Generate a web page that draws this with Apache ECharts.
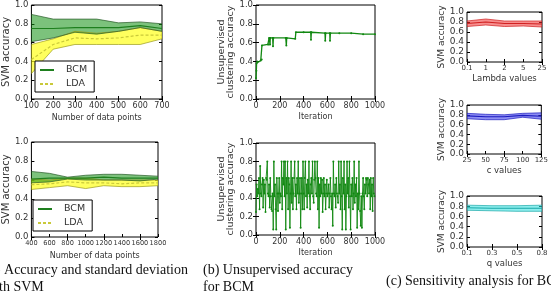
<!DOCTYPE html>
<html>
<head>
<meta charset="utf-8">
<script src="https://cdn.jsdelivr.net/npm/echarts@6/dist/echarts.min.js"></script>
<style>
  html, body { margin: 0; padding: 0; background: #fff; }
  #main { width: 551px; height: 303px; }
</style>
</head>
<body>
<div id="main"></div>
<script>
// (a) top: accuracy vs number of data points
var ptsA1 = ['100', '200', '300', '400', '500', '600', '700'];
var bcmMeanA1 = [0.75, 0.75, 0.76, 0.76, 0.76, 0.78, 0.75];
var bcmUpA1 = [0.90, 0.85, 0.85, 0.85, 0.81, 0.82, 0.80];
var bcmLoA1 = [0.61, 0.65, 0.71, 0.69, 0.72, 0.76, 0.72];
var ldaMeanA1 = [0.42, 0.58, 0.65, 0.64, 0.65, 0.68, 0.68];
var ldaUpA1 = [0.58, 0.64, 0.72, 0.70, 0.72, 0.76, 0.72];
var ldaLoA1 = [0.27, 0.53, 0.58, 0.58, 0.58, 0.58, 0.64];

// (a) bottom
var ptsA2 = ['400', '600', '800', '1000', '1200', '1400', '1600', '1800'];
var bcmMeanA2 = [0.61, 0.62, 0.62, 0.62, 0.63, 0.62, 0.62, 0.62];
var bcmUpA2 = [0.69, 0.67, 0.63, 0.65, 0.66, 0.66, 0.65, 0.64];
var bcmLoA2 = [0.57, 0.58, 0.61, 0.60, 0.60, 0.60, 0.59, 0.61];
var ldaMeanA2 = [0.55, 0.56, 0.58, 0.57, 0.57, 0.56, 0.57, 0.57];
var ldaUpA2 = [0.61, 0.60, 0.62, 0.62, 0.60, 0.60, 0.60, 0.60];
var ldaLoA2 = [0.50, 0.52, 0.54, 0.51, 0.54, 0.53, 0.53, 0.54];

// (b) top: unsupervised accuracy per iteration (breakpoints of the step curve)
var iterB1 = [0, 3, 5, 10, 40, 48, 50, 100, 108, 110, 116, 118, 120, 140, 143, 146, 250, 255, 258, 330, 335, 400, 460, 462, 465, 580, 582, 585, 620, 622, 625, 700, 800, 900, 1000];
var accB1 = [0.22, 0.30, 0.38, 0.40, 0.41, 0.42, 0.57, 0.58, 0.58, 0.65, 0.65, 0.58, 0.65, 0.65, 0.56, 0.65, 0.65, 0.57, 0.65, 0.64, 0.71, 0.71, 0.71, 0.63, 0.71, 0.70, 0.62, 0.70, 0.70, 0.62, 0.70, 0.70, 0.70, 0.69, 0.69];

// (b) bottom: one value every 5 iterations
var stepB2 = 5;
var accB2 = [
  0.25, 0.55, 0.42, 0.5, 0.45, 0.62, 0.28, 0.75, 0.45, 0.42, 0.55, 0.62, 0.3, 0.6, 0.45, 0.55, 0.25, 0.62, 0.6, 0.8,
  0.45, 0.42, 0.55, 0.3, 0.62, 0.42, 0.28, 0.26, 0.45, 0.06, 0.8, 0.42, 0.55, 0.28, 0.06, 0.62, 0.45, 0.26, 0.45, 0.62,
  0.35, 0.45, 0.42, 0.8, 0.28, 0.62, 0.55, 0.8, 0.42, 0.8, 0.06, 0.62, 0.45, 0.8, 0.28, 0.62, 0.55, 0.08, 0.45, 0.8,
  0.35, 0.62, 0.28, 0.45, 0.62, 0.8, 0.42, 0.55, 0.28, 0.62, 0.45, 0.8, 0.35, 0.45, 0.62, 0.08, 0.45, 0.62, 0.28, 0.8,
  0.45, 0.28, 0.62, 0.8, 0.42, 0.55, 0.3, 0.6, 0.45, 0.8, 0.42, 0.28, 0.55, 0.62, 0.45, 0.8, 0.42, 0.35, 0.6, 0.8,
  0.62, 0.45, 0.42, 0.8, 0.28, 0.62, 0.08, 0.55, 0.42, 0.62, 0.45, 0.6, 0.25, 0.45, 0.62, 0.42, 0.55, 0.28, 0.45, 0.6,
  0.42, 0.45, 0.55, 0.3, 0.45, 0.62, 0.42, 0.28, 0.45, 0.1, 0.8, 0.45, 0.42, 0.55, 0.3, 0.62, 0.45, 0.42, 0.35, 0.8,
  0.45, 0.55, 0.28, 0.8, 0.42, 0.06, 0.62, 0.45, 0.8, 0.28, 0.55, 0.06, 0.42, 0.8, 0.45, 0.62, 0.3, 0.8, 0.42, 0.06,
  0.55, 0.42, 0.62, 0.28, 0.45, 0.8, 0.35, 0.55, 0.42, 0.62, 0.08, 0.45, 0.28, 0.8, 0.45, 0.26, 0.1, 0.42, 0.08, 0.45,
  0.62, 0.42, 0.28, 0.55, 0.45, 0.62, 0.6, 0.42, 0.62, 0.55, 0.45, 0.6, 0.28, 0.62, 0.42, 0.55, 0.26, 0.62, 0.45, 0.42
];

// (c) sensitivity
var lambdaVals = ['0.1', '1', '2', '5', '25'];
var lambdaMean = [0.77, 0.80, 0.77, 0.77, 0.76];
var lambdaUp = [0.82, 0.86, 0.82, 0.82, 0.82];
var lambdaLo = [0.71, 0.74, 0.71, 0.72, 0.70];
var cVals = ['25', '50', '75', '100', '125'];
var cMean = [0.78, 0.76, 0.76, 0.79, 0.77];
var cUp = [0.83, 0.81, 0.80, 0.83, 0.84];
var cLo = [0.72, 0.70, 0.70, 0.75, 0.71];
var qVals = ['0.1', '0.3', '0.5', '0.8'];
var qMean = [0.77, 0.76, 0.76, 0.76];
var qUp = [0.82, 0.81, 0.81, 0.82];
var qLo = [0.72, 0.71, 0.70, 0.70];

var FONT = 'DejaVu Sans';
var TXT = '#333';
var grids = [], xAxes = [], yAxes = [], series = [], legends = [];

function diff(up, lo) {
  return up.map(function (v, i) { return +(v - lo[i]).toFixed(3); });
}

function merge(base, extra) {
  return Object.assign({}, base, extra || {});
}

// adds a framed panel with ticks on all four sides, returns main axis indexes
function panel(box, xCfg, yCfg) {
  var g = grids.length;
  grids.push({ left: box[0], top: box[1], width: box[2], height: box[3], show: true,
    borderColor: '#000', borderWidth: 1, backgroundColor: '#fff', containLabel: false });
  var xi = xAxes.length, yi = yAxes.length;
  var tick = { show: true, inside: true, length: 3, lineStyle: { color: '#000' } };
  var baseX = Object.assign({ gridIndex: g, axisLine: { show: false }, axisTick: tick, splitLine: { show: false },
    nameLocation: 'middle' }, xCfg);
  baseX.nameTextStyle = merge({ fontFamily: FONT, fontSize: 8, color: TXT }, xCfg.nameTextStyle);
  baseX.axisLabel = merge({ fontFamily: FONT, fontSize: 8, color: TXT, margin: 3, interval: 0 }, xCfg.axisLabel);
  xAxes.push(baseX);
  xAxes.push(Object.assign({}, baseX, { position: 'top', name: '', axisLabel: { show: false } }));
  var baseY = Object.assign({ gridIndex: g, type: 'value', min: 0, max: 1, interval: 0.2, axisLine: { show: false },
    axisTick: tick, splitLine: { show: false }, nameLocation: 'middle', nameRotate: 90 }, yCfg);
  baseY.nameTextStyle = merge({ fontFamily: FONT, fontSize: 10, color: TXT }, yCfg.nameTextStyle);
  baseY.axisLabel = merge({ fontFamily: FONT, fontSize: 8.5, color: TXT, margin: 3,
    formatter: function (v) { return v.toFixed(1); } }, yCfg.axisLabel);
  yAxes.push(baseY);
  yAxes.push(Object.assign({}, baseY, { position: 'right', name: '', axisLabel: { show: false } }));
  return { x: xi, y: yi };
}

function band(ax, lo, up, fill, edge, opacity, key) {
  series.push({ type: 'line', xAxisIndex: ax.x, yAxisIndex: ax.y, stack: key, data: lo, symbol: 'none',
    lineStyle: { color: edge, width: 0.7 }, silent: true, z: 2 });
  series.push({ type: 'line', xAxisIndex: ax.x, yAxisIndex: ax.y, stack: key, data: diff(up, lo), symbol: 'none',
    lineStyle: { color: edge, width: 0.7 }, areaStyle: { color: fill, opacity: opacity }, silent: true, z: 2 });
}

function meanLine(ax, name, data, color, type) {
  series.push({ type: 'line', name: name, xAxisIndex: ax.x, yAxisIndex: ax.y, data: data, symbol: 'none',
    lineStyle: { color: color, width: 1.2, type: type }, itemStyle: { color: color }, z: 4 });
}

function addLegend(box) {
  legends.push({ data: ['BCM', 'LDA'], orient: 'vertical', left: box[0], top: box[1], itemGap: 4,
    itemWidth: 14, itemHeight: 9, padding: [4, 7, 3, 4], borderColor: '#000', borderWidth: 1,
    backgroundColor: '#fff', borderRadius: 0, selectedMode: false,
    itemStyle: { opacity: 0 },
    textStyle: { fontFamily: FONT, fontSize: 9.5, color: TXT, padding: [0, 0, 0, 7] } });
}

function numLabel(v) { return String(v); }

// (a) top
var a1 = panel([29, 5, 133, 94],
  { type: 'category', data: ptsA1, boundaryGap: false, name: 'Number of data points', nameGap: 15 },
  { name: 'SVM accuracy', nameGap: 18 });
band(a1, ldaLoA1, ldaUpA1, '#ffff1a', '#9a9a20', 0.7, 'ldaA1');
band(a1, bcmLoA1, bcmUpA1, '#109010', '#2a5a2a', 0.55, 'bcmA1');
meanLine(a1, 'BCM', bcmMeanA1, '#1e7f1e', 'solid');
meanLine(a1, 'LDA', ldaMeanA1, '#c9c93a', [3, 2]);
addLegend([35, 61]);

// (a) bottom
var a2 = panel([29, 142, 129, 95],
  { type: 'category', data: ptsA2, boundaryGap: false, name: 'Number of data points', nameGap: 15,
    axisLabel: { fontSize: 6.6 } },
  { name: 'SVM accuracy', nameGap: 18 });
band(a2, ldaLoA2, ldaUpA2, '#ffff1a', '#9a9a20', 0.7, 'ldaA2');
band(a2, bcmLoA2, bcmUpA2, '#109010', '#2a5a2a', 0.55, 'bcmA2');
meanLine(a2, 'BCM', bcmMeanA2, '#1e7f1e', 'solid');
meanLine(a2, 'LDA', ldaMeanA2, '#c9c93a', [3, 2]);
addLegend([33, 200]);

// (b) top
var yNameB = { name: 'Unsupervised\nclustering accuracy', nameGap: 16, nameTextStyle: { fontSize: 9.5, lineHeight: 9 } };
var b1 = panel([256, 5, 119, 94],
  { type: 'value', min: 0, max: 1000, interval: 200, name: 'Iteration', nameGap: 14, axisLabel: { formatter: numLabel } },
  yNameB);
series.push({ type: 'line', xAxisIndex: b1.x, yAxisIndex: b1.y, symbol: 'circle', symbolSize: 2,
  data: iterB1.map(function (it, i) { return [it, accB1[i]]; }),
  lineStyle: { color: '#118811', width: 1.3 }, itemStyle: { color: '#118811' }, z: 4 });

// (b) bottom
var b2 = panel([256, 143, 119, 92],
  { type: 'value', min: 0, max: 1000, interval: 200, name: 'Iteration', nameGap: 14, axisLabel: { formatter: numLabel } },
  yNameB);
series.push({ type: 'line', xAxisIndex: b2.x, yAxisIndex: b2.y, symbol: 'circle', symbolSize: 2,
  data: accB2.map(function (v, i) { return [i * stepB2, v]; }),
  lineStyle: { color: '#118811', width: 0.9 }, itemStyle: { color: '#118811' }, z: 4 });

// (c) sensitivity panels
function sens(box, cats, mean, up, lo, name, fill, line, key) {
  var ax = panel(box,
    { type: 'category', data: cats, boundaryGap: false, name: name, nameGap: 12,
      axisLabel: { fontSize: 7 }, nameTextStyle: { fontSize: 8.5 } },
    { name: 'SVM accuracy', nameGap: 15, axisLabel: { fontSize: 9 }, nameTextStyle: { fontSize: 9 } });
  band(ax, lo, up, fill, line, 0.55, key);
  series.push({ type: 'line', xAxisIndex: ax.x, yAxisIndex: ax.y, data: mean, symbol: 'none',
    lineStyle: { color: line, width: 1.2 }, z: 4 });
}
sens([467, 12, 75, 50], lambdaVals, lambdaMean, lambdaUp, lambdaLo, 'Lambda values', '#f03030', '#d02020', 'lam');
sens([467, 105, 75, 49], cVals, cMean, cUp, cLo, 'c values', '#3030e8', '#1c1cc0', 'cv');
sens([467, 196, 75, 51], qVals, qMean, qUp, qLo, 'q values', '#30e0e0', '#18a8a8', 'qv');

// captions
var capStyle = { fontFamily: 'Liberation Serif', fontSize: 14, fill: '#111' };
var graphic = [
  { type: 'text', left: -15, top: 263, style: Object.assign({ text: '(a) Accuracy and standard deviation' }, capStyle) },
  { type: 'text', left: -15, top: 280, style: Object.assign({ text: 'with SVM' }, capStyle) },
  { type: 'text', left: 203, top: 263, style: Object.assign({ text: '(b) Unsupervised accuracy' }, capStyle) },
  { type: 'text', left: 203, top: 280, style: Object.assign({ text: 'for BCM' }, capStyle) },
  { type: 'text', left: 386, top: 274, style: Object.assign({ text: '(c) Sensitivity analysis for BCM' }, capStyle) }
];

var chart = echarts.init(document.getElementById('main'), null, { renderer: 'canvas' });
chart.setOption({
  animation: false,
  backgroundColor: '#fff',
  grid: grids,
  xAxis: xAxes,
  yAxis: yAxes,
  legend: legends,
  series: series,
  graphic: graphic
});
</script>
</body>
</html>
